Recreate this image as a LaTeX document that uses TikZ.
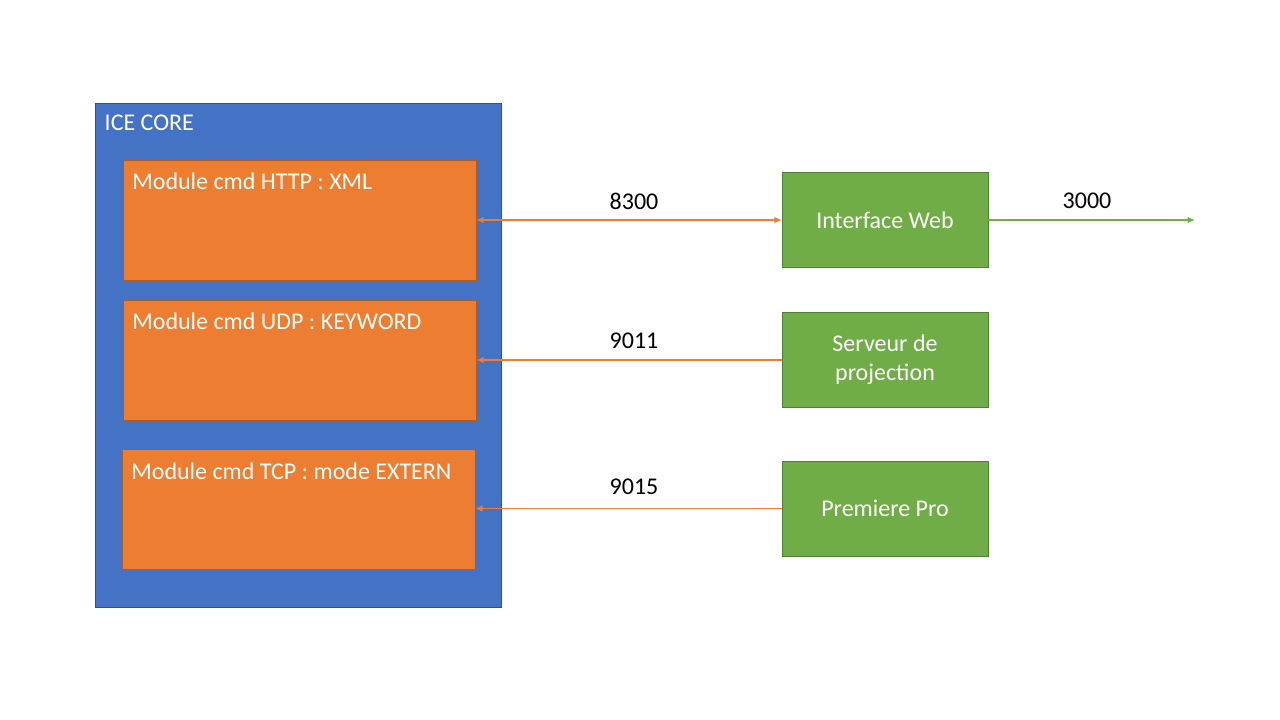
\documentclass[tikz,border=0pt]{standalone}
\usepackage{fontspec}
\setmainfont{Carlito}
\usetikzlibrary{arrows.meta}

\definecolor{coreblue}{HTML}{4472C4}
\definecolor{coreline}{HTML}{2F528F}
\definecolor{modorange}{HTML}{ED7D31}
\definecolor{modline}{HTML}{AE5A21}
\definecolor{appgreen}{HTML}{70AD47}
\definecolor{appline}{HTML}{507E32}

\tikzset{
  module/.style={draw=modline,fill=modorange,minimum width=264.75pt,minimum height=90pt,inner sep=0pt},
  app/.style={draw=appline,fill=appgreen,text=white,minimum width=154.5pt,minimum height=71.25pt,align=center,inner sep=0pt},
  port/.style={font=\fontsize{18}{21}\selectfont}
}

\begin{document}
\begin{tikzpicture}[x=0.75pt,y=-0.75pt,font=\fontsize{18}{21}\selectfont]

      \useasboundingbox (0,0) rectangle (1280,720);

      % ICE CORE
      \node[draw=coreline,fill=coreblue,minimum width=304.5pt,minimum height=378pt,inner sep=0pt] (core) at (298,355) {};
      \node[text=white,anchor=west] (coretitle) at (100,123) {ICE CORE};

      \begin{scope}[every label/.style={text=white,anchor=north west,inner sep=0pt,xshift=7pt,yshift=-10pt}]
        \node[module,label={north west:Module cmd HTTP : XML}] (http) at (299.5,220) {};
        \node[module,label={north west:Module cmd UDP : KEYWORD}] (udp) at (299.5,360) {};
        \node[module,label={north west:Module cmd TCP : mode EXTERN}] (tcp) at (298.5,509) {};
      \end{scope}

      \node[app] (web) at (885,220) {Interface Web};
      \node[app,align=center,font=\fontsize{18}{22}\selectfont] (proj) at (885,360) {Serveur de\\projection};
      \node[app] (prem) at (885,508.5) {Premiere Pro};
      \coordinate (out) at (1195,220);

      \begin{scope}[line width=1.1pt]
        \draw[modorange,{Latex[length=5.5pt,width=5pt]}-{Latex[length=5.5pt,width=5pt]}] (http.east) -- (web.west);
        \draw[modorange,-{Latex[length=5.5pt,width=5pt]}] (proj.west) -- (udp.east);
        \draw[modorange,-{Latex[length=5.5pt,width=5pt]}] (prem.west) -- (tcp.east |- prem.west);
        \draw[appgreen,-{Latex[length=5.5pt,width=5pt]}] (web.east) -- (out);
      \end{scope}

      \node[port] (p8300) at (634,201) {8300};
      \node[port] (p9011) at (634,341) {9011};
      \node[port] (p9015) at (634,487) {9015};
      \node[port] (p3000) at (1087,201) {3000};

    \end{tikzpicture}
\end{document}
